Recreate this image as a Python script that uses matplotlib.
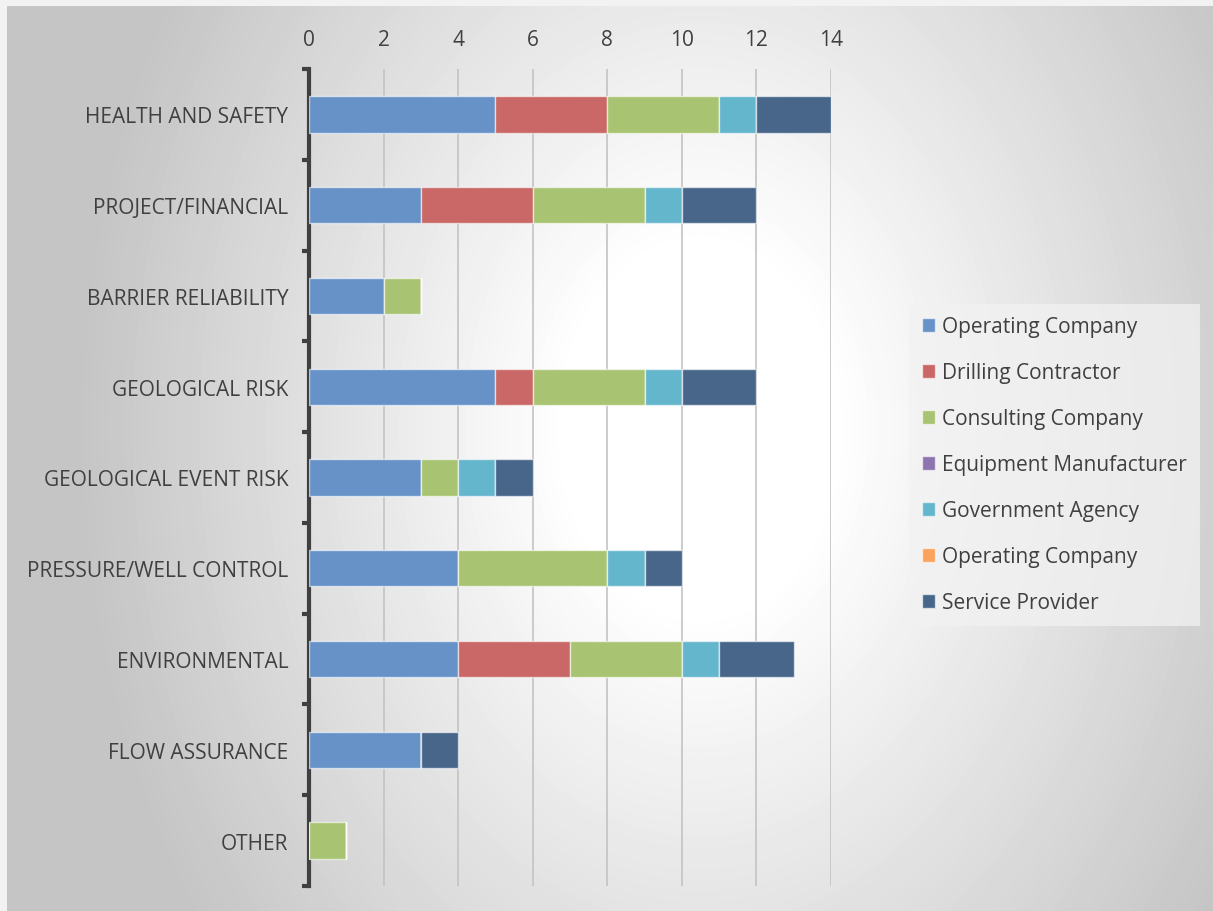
#!/usr/bin/env python3
"""Stacked horizontal bars: risk categories by respondent type."""

import matplotlib.pyplot as plt
import numpy as np

plt.rcParams.update(
    {
        "font.family": ["Open Sans", "DejaVu Sans"],
        "font.size": 15,
        "text.color": "#404040",
        "xtick.color": "#404040",
        "ytick.color": "#404040",
    }
)

CATEGORIES = [
    "HEALTH AND SAFETY",
    "PROJECT/FINANCIAL",
    "BARRIER RELIABILITY",
    "GEOLOGICAL RISK",
    "GEOLOGICAL EVENT RISK",
    "PRESSURE/WELL CONTROL",
    "ENVIRONMENTAL",
    "FLOW ASSURANCE",
    "OTHER",
]

SERIES_NAMES = [
    "Operating Company",
    "Drilling Contractor",
    "Consulting Company",
    "Equipment Manufacturer",
    "Government Agency",
    "Operating Company",
    "Service Provider",
]

operating = [5, 3, 2, 5, 3, 4, 4, 3, 0]
drilling = [3, 3, 0, 1, 0, 0, 3, 0, 0]
consulting = [3, 3, 1, 3, 1, 4, 3, 0, 1]
equipment = [0, 0, 0, 0, 0, 0, 0, 0, 0]
government = [1, 1, 0, 1, 1, 1, 1, 0, 0]
operating_2 = [0, 0, 0, 0, 0, 0, 0, 0, 0]
service = [2, 2, 0, 2, 1, 1, 2, 1, 0]

SERIES_VALUES = [operating, drilling, consulting, equipment, government, operating_2, service]
COLORS = ["#6692C7", "#C96866", "#A8C472", "#8D74AE", "#63B6CC", "#F9A35E", "#486689"]

X_TICKS = [0, 2, 4, 6, 8, 10, 12, 14]

W, H = 1213, 912
fig = plt.figure(figsize=(W / 100, H / 100), dpi=100, facecolor="#F2F2F2")

# radial gradient chart area: white in the middle, grey toward the edges
x0, x1, y0, y1 = 7, W, 7, H
bg = fig.add_axes([x0 / W, 1 - y1 / H, (x1 - x0) / W, (y1 - y0) / H])
yy, xx = np.mgrid[y0:y1, x0:x1]
r = np.hypot(xx - 700, (yy - 430) / 1.35)
shade = np.clip(1.0 - 0.00047 * np.clip(r - 135, 0, None), 0.77, 1.0)
bg.imshow(shade, cmap="gray", vmin=0, vmax=1, aspect="auto", interpolation="bilinear")
bg.set_axis_off()

ax = fig.add_axes([309 / W, 1 - 887 / H, (831 - 309) / W, (887 - 70) / H])
ax.patch.set_alpha(0)

y = np.arange(len(CATEGORIES))
left = np.zeros(len(CATEGORIES))
for name, vals, color in zip(SERIES_NAMES, SERIES_VALUES, COLORS):
    vals = np.array(vals, dtype=float)
    ax.barh(y, vals, left=left, height=0.4, color=color, label=name,
            edgecolor=(1, 1, 1, 0.6), linewidth=1.0, zorder=3)
    left += vals

ax.set_xlim(0, 14)
ax.set_ylim(len(CATEGORIES) - 0.5, -0.5)
ax.set_xticks(X_TICKS)
ax.xaxis.tick_top()
ax.tick_params(axis="x", length=0, pad=14, labelsize=15)
ax.grid(axis="x", color="#C3C3C3", linewidth=1.2, zorder=0)

ax.set_yticks(y)
ax.set_yticklabels(CATEGORIES)
ax.set_yticks(np.arange(len(CATEGORIES) + 1) - 0.5, minor=True)
ax.tick_params(axis="y", which="major", length=0, pad=15, labelsize=15)
ax.tick_params(axis="y", which="minor", length=5, width=3, color="#404040")

for side in ("top", "right", "bottom"):
    ax.spines[side].set_visible(False)
ax.spines["left"].set_color("#404040")
ax.spines["left"].set_linewidth(3)

leg = ax.legend(
    loc="upper left",
    bbox_to_anchor=(909 / W, 1 - 305 / H),
    bbox_transform=fig.transFigure,
    frameon=True,
    fontsize=15,
    handlelength=0.65,
    handleheight=0.65,
    handletextpad=0.35,
    labelspacing=1.2,
    borderpad=0.6,
    borderaxespad=0,
    fancybox=False,
)
leg.get_frame().set_facecolor("#F2F2F2")
leg.get_frame().set_alpha(0.75)
leg.get_frame().set_edgecolor("none")

fig.savefig("out.png", dpi=100, facecolor=fig.get_facecolor())
